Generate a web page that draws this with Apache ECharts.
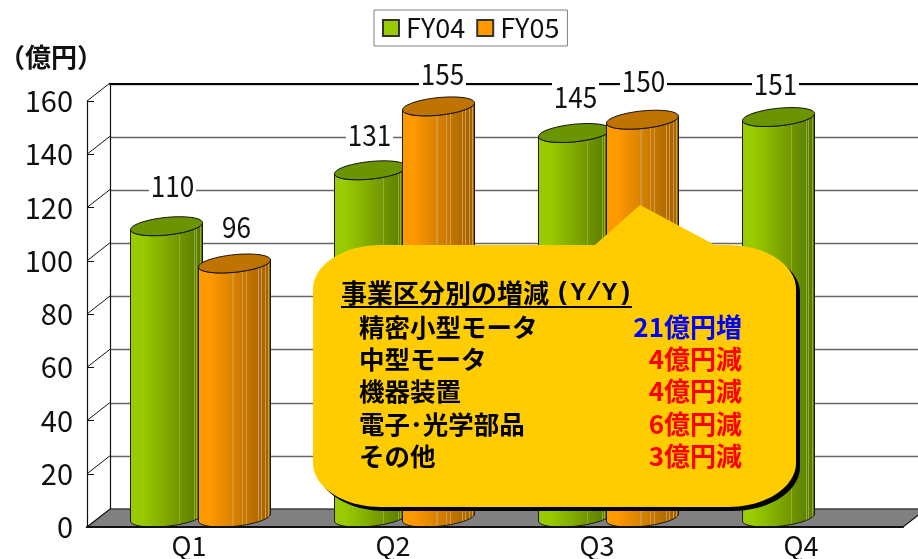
<!DOCTYPE html>
<html>
<head>
<meta charset="utf-8">
<style>html,body{margin:0;padding:0;background:#fff}#c{width:918px;height:559px}</style>
<script src="https://cdn.jsdelivr.net/npm/echarts@6/dist/echarts.min.js"></script>
</head>
<body>
<div id="c"></div>
<script>
const categories = ['Q1', 'Q2', 'Q3', 'Q4'];
const fy04 = [110, 131, 145, 151];
const fy05 = [96, 155, 150, null];
const yTicks = [0, 20, 40, 60, 80, 100, 120, 140, 160];
const unitLabel = '（億円）';
const noteTitleMain = '事業区分別の増減';
const noteTitleTail = '(Y/Y)';
const noteNames = ['精密小型モータ', '中型モータ', '機器装置', '電子･光学部品', 'その他'];
const noteChanges = ['21億円増', '4億円減', '4億円減', '6億円減', '3億円減'];
const noteColors = ['#0000ff', '#ff0000', '#ff0000', '#ff0000', '#ff0000'];

// layout of the pseudo-3D box
const DX = 23, DY = 18;
const labelShift = {
  FY04: [[6, -40], [-1, -35], [1, -36], [-3, -33]],
  FY05: [[2, -36], [4, -32], [1, -39], [0, 0]]
};
const SANS = '"Noto Sans CJK JP",sans-serif';
const LG = (stops) => new echarts.graphic.LinearGradient(0, 0, 1, 0, stops.map(s => ({offset: s[0], color: s[1]})));

// shading of the cylinder walls: base ramp plus thin light streaks
function shade(left, right, streak, streakAt) {
  const mix = (a, b, t) => {
    const pa = [1, 3, 5].map(i => parseInt(a.substr(i, 2), 16));
    const pb = [1, 3, 5].map(i => parseInt(b.substr(i, 2), 16));
    return 'rgb(' + pa.map((c, i) => Math.round(c + (pb[i] - c) * t)).join(',') + ')';
  };
  const at = t => mix(left, right, Math.max(0, (t - 0.15) / 0.75));
  const stops = [[0, at(0)], [0.15, at(0.15)]];
  streakAt.forEach(s => {
    stops.push([s - 0.008, at(s - 0.008)], [s - 0.007, streak], [s + 0.007, streak], [s + 0.008, at(s + 0.008)]);
  });
  stops.push([1, at(1)]);
  return stops;
}
const greenBody = shade('#99cc00', '#5f8000', '#8fae30', [0.68, 0.88, 0.91, 0.97]);
const orangeBody = shade('#ff9900', '#a86600', '#d49a48', [0.48, 0.61, 0.67, 0.83, 0.87, 0.92, 0.97]);

function ellipsePts(cx, cy, a, b, tilt, t0, t1, n) {
  const pts = [];
  for (let i = 0; i <= n; i++) {
    const t = t0 + (t1 - t0) * i / n;
    pts.push([cx + a * Math.cos(t), cy - tilt * Math.cos(t) - b * Math.sin(t)]);
  }
  return pts;
}

function cylinder(name, side, body, topColor) {
  return function (params, api) {
    const idx = api.value(0), v = api.value(1);
    const band = api.size([1, 0])[0];
    const p = api.coord([idx, v]);
    const p0 = api.coord([idx, 0]);
    const a = band * 36 / 204, off = band * 34 / 204;
    const cx = p[0] + DX / 2 + side * off;
    const cyT = p[1] - DY * 0.44, cyB = p0[1] - DY * 0.5 - 0.5;
    const b = 8.8, tilt = 3.5;
    const outline = ellipsePts(cx, cyB, a, b, tilt, Math.PI, 2 * Math.PI, 28)
      .concat(ellipsePts(cx, cyT, a, b, tilt, 2 * Math.PI, Math.PI, 28));
    const shift = labelShift[name][idx];
    return {
      type: 'group',
      children: [
        {type: 'polygon', shape: {points: outline}, style: {fill: LG(body), stroke: '#1a1a1a', lineWidth: 1}},
        {type: 'polygon', shape: {points: ellipsePts(cx, cyT, a, b, tilt, 0, 2 * Math.PI, 56)}, style: {fill: topColor, stroke: '#111', lineWidth: 1}},
        {type: 'text', z2: 50, x: cx + shift[0], y: cyT + shift[1], scaleX: 0.9, style: {
          text: String(v), x: 0, y: 0, align: 'center', verticalAlign: 'middle',
          font: '29px ' + SANS, fill: '#111', backgroundColor: '#fff', padding: [0, 2]
        }}
      ]
    };
  };
}

function frameItem(params, api) {
  const v = api.value(0);
  const cs = params.coordSys;
  const y = api.coord([0, v])[1];
  const children = [];
  if (v === 0) {
    const x0 = cs.x, x1 = cs.x + cs.width;
    children.push({type: 'polygon', shape: {points: [[x0, y], [x1, y], [x1 + DX, y - DY], [x0 + DX, y - DY]]},
      style: {fill: '#808080', stroke: '#111', lineWidth: 1.2}});
  } else {
    children.push({type: 'line', shape: {x1: cs.x, y1: y, x2: cs.x + DX, y2: y - DY}, style: {stroke: '#111', lineWidth: 1}});
  }
  return {type: 'group', children};
}

function corner(cx, cy, rx, ry, t0, t1) {
  const pts = [];
  for (let i = 0; i <= 20; i++) {
    const t = t0 + (t1 - t0) * i / 20;
    pts.push([cx + rx * Math.cos(t), cy + ry * Math.sin(t)]);
  }
  return pts;
}
const PI = Math.PI;
const L = 313, R = 796, T = 245, B = 507, RX = 68, RY = 44;
const bubble = [].concat(
  corner(L + RX, T + RY, RX, RY, PI, 1.5 * PI),
  [[595, T], [640, 205], [715, T]],
  corner(R - RX, T + RY, RX, RY, 1.5 * PI, 2 * PI),
  corner(R - RX, B - RY, RX, RY, 0, .5 * PI),
  corner(L + RX, B - RY, RX, RY, .5 * PI, PI)
);

const noteGraphics = [
  {type: 'polygon', z: 100, x: 4, y: 4, shape: {points: bubble}, style: {fill: '#000'}},
  {type: 'polygon', z: 101, shape: {points: bubble}, style: {fill: '#ffcc00'}},
  {type: 'text', z: 102, x: 341, y: 293, style: {text: noteTitleMain, font: 'bold 26px ' + SANS, fill: '#000', verticalAlign: 'middle'}},
  {type: 'text', z: 102, x: 555, y: 293, style: {text: noteTitleTail, font: 'bold 26px "Liberation Mono",monospace', fill: '#000', verticalAlign: 'middle'}},
  {type: 'rect', z: 102, shape: {x: 341, y: 306, width: 291, height: 2}, style: {fill: '#000'}}
];
noteNames.forEach((n, i) => {
  const y = 327 + i * 32.3;
  noteGraphics.push({type: 'text', z: 102, x: 359, y, style: {text: n, font: 'bold 25.5px ' + SANS, fill: '#000', verticalAlign: 'middle'}});
  noteGraphics.push({type: 'text', z: 102, x: 742, y, style: {text: noteChanges[i], font: 'bold 26px ' + SANS, fill: noteColors[i], align: 'right', verticalAlign: 'middle'}});
});

const seriesFY04 = fy04.map((v, i) => [i, v]).filter(d => d[1] != null);
const seriesFY05 = fy05.map((v, i) => [i, v]).filter(d => d[1] != null);

const chart = echarts.init(document.getElementById('c'), null, {renderer: 'canvas'});
chart.setOption({
  animation: false,
  backgroundColor: '#fff',
  textStyle: {fontFamily: SANS},
  legend: {
    data: ['FY04', 'FY05'], left: 374, top: 10,
    icon: 'rect', itemWidth: 16, itemHeight: 16, itemGap: 11,
    padding: [4.5, 8, 4.5, 8], borderColor: '#808080', borderWidth: 1, backgroundColor: '#fff',
    selectedMode: false, textStyle: {fontFamily: SANS, fontSize: 27, color: '#111', padding: [0, 0, 0, 2]}
  },
  grid: [
    {left: 87, width: 816, top: 101, height: 426, outerBoundsMode: 'none'},
    {left: 110, width: 830, top: 84, height: 425, outerBoundsMode: 'none'}
  ],
  xAxis: [
    {gridIndex: 0, type: 'category', data: categories, z: 5,
      axisLine: {lineStyle: {color: '#111', width: 2}},
      axisTick: {inside: true, length: 7, lineStyle: {color: '#111', width: 1}, alignWithLabel: false},
      axisLabel: {fontFamily: SANS, fontSize: 27, color: '#111', margin: 5}},
    {gridIndex: 1, type: 'category', data: categories, position: 'top', z: 2,
      axisLine: {onZero: false, lineStyle: {color: '#000', width: 2}}, axisTick: {show: false}, axisLabel: {show: false}}
  ],
  yAxis: [
    {gridIndex: 0, type: 'value', min: 0, max: 160, interval: 20, z: 5,
      name: unitLabel, nameLocation: 'end', nameGap: 31,
      nameTextStyle: {fontFamily: SANS, fontWeight: 'bold', fontSize: 26, color: '#111', align: 'center', padding: [0, 72, 0, 0]},
      axisLine: {show: true, lineStyle: {color: '#111', width: 1.2}},
      axisTick: {show: true, inside: true, length: 7, lineStyle: {color: '#111', width: 1}},
      axisLabel: {fontFamily: SANS, fontSize: 29, color: '#111', margin: 14},
      splitLine: {show: false}},
    {gridIndex: 1, type: 'value', min: 0, max: 160, interval: 20,
      axisLine: {show: true, lineStyle: {color: '#111', width: 1.2}}, axisTick: {show: false}, axisLabel: {show: false},
      splitLine: {show: true, lineStyle: {color: '#666', width: 1.3}}}
  ],
  series: [
    {type: 'custom', name: 'frame', xAxisIndex: 0, yAxisIndex: 0, z: 1, silent: true, clip: false,
      renderItem: frameItem, data: yTicks.map(v => [v]), encode: {y: 0}, tooltip: {show: false}},
    {type: 'custom', name: 'FY04', xAxisIndex: 0, yAxisIndex: 0, z: 3, clip: false,
      itemStyle: {color: '#99cc00', borderColor: '#333', borderWidth: 1},
      renderItem: cylinder('FY04', -1, greenBody, '#6b9500'), data: seriesFY04, encode: {x: 0, y: 1}},
    {type: 'custom', name: 'FY05', xAxisIndex: 0, yAxisIndex: 0, z: 4, clip: false,
      itemStyle: {color: '#ff9900', borderColor: '#333', borderWidth: 1},
      renderItem: cylinder('FY05', 1, orangeBody, '#bf7300'), data: seriesFY05, encode: {x: 0, y: 1}}
  ],
  graphic: noteGraphics
});
</script>
</body>
</html>
